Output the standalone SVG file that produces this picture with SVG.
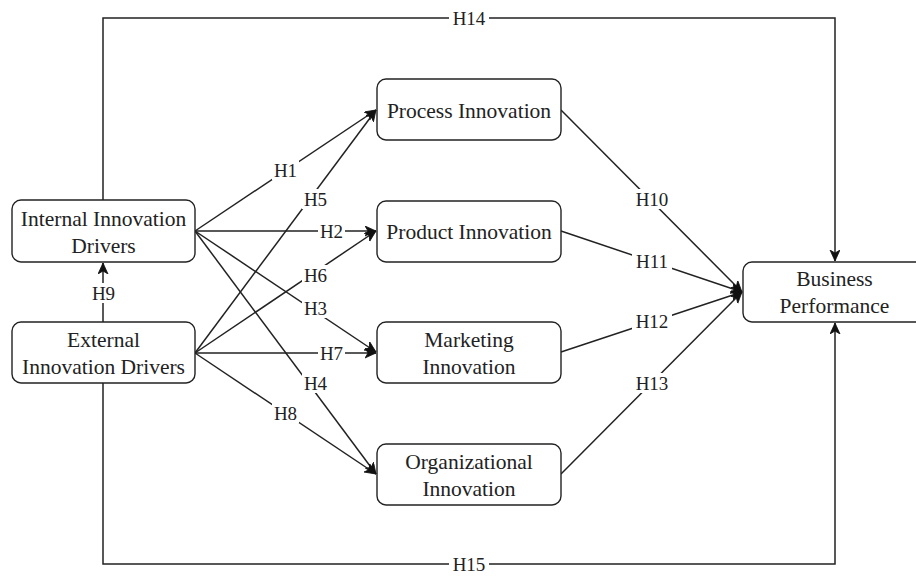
<svg xmlns="http://www.w3.org/2000/svg" width="916" height="576" viewBox="0 0 916 576">
<style>
.box{fill:#fff;stroke:#222;stroke-width:1.4}
.t{font-family:"Liberation Serif","Times New Roman",serif;font-size:21.5px;fill:#222;text-anchor:middle}
.e{fill:none;stroke:#222;stroke-width:1.5}
.lb{fill:#fff;stroke:none}
.l{font-family:"Liberation Serif","Times New Roman",serif;font-size:19px;fill:#222;text-anchor:middle}
</style>
<defs>
<marker id="arr" markerUnits="userSpaceOnUse" markerWidth="14" markerHeight="12" refX="11" refY="5" orient="auto">
<path d="M0,0 L11,5 L0,10 L3,5 z" fill="#111" stroke="#111" stroke-width="0.8"/>
</marker>
</defs>
<rect width="916" height="576" fill="#fff"/>
<g id="connectors">
<path class="e" d="M103,200 L103,18 L835,18 L835,261" marker-end="url(#arr)"/>
<path class="e" d="M103,383 L103,564 L835,564 L835,323" marker-end="url(#arr)"/>
<path class="e" d="M103,322 L103,263" marker-end="url(#arr)"/>
<path class="e" d="M195,231 L376,110" marker-end="url(#arr)"/>
<path class="e" d="M195,231 L376,231" marker-end="url(#arr)"/>
<path class="e" d="M195,231 L376,352" marker-end="url(#arr)"/>
<path class="e" d="M195,231 L376,474" marker-end="url(#arr)"/>
<path class="e" d="M195,353 L376,110" marker-end="url(#arr)"/>
<path class="e" d="M195,353 L376,231" marker-end="url(#arr)"/>
<path class="e" d="M195,353 L376,353" marker-end="url(#arr)"/>
<path class="e" d="M195,353 L376,474" marker-end="url(#arr)"/>
<path class="e" d="M561,110 L742,292" marker-end="url(#arr)"/>
<path class="e" d="M561,231 L742,292" marker-end="url(#arr)"/>
<path class="e" d="M561,352 L742,292" marker-end="url(#arr)"/>
<path class="e" d="M561,474 L742,292" marker-end="url(#arr)"/>
<g id="labels">
<rect class="lb" x="449" y="8" width="40" height="20"/><text class="l" x="469" y="24.5">H14</text>
<rect class="lb" x="449" y="554" width="40" height="20"/><text class="l" x="469" y="570.5">H15</text>
<rect class="lb" x="90" y="283" width="27" height="20"/><text class="l" x="103.5" y="299.5">H9</text>
<rect class="lb" x="272" y="160" width="27" height="20"/><text class="l" x="285.5" y="176.5">H1</text>
<rect class="lb" x="318" y="221" width="27" height="20"/><text class="l" x="331.5" y="237.5">H2</text>
<rect class="lb" x="302" y="298" width="27" height="20"/><text class="l" x="315.5" y="314.5">H3</text>
<rect class="lb" x="302" y="373" width="27" height="20"/><text class="l" x="315.5" y="389.5">H4</text>
<rect class="lb" x="302" y="189" width="27" height="20"/><text class="l" x="315.5" y="205.5">H5</text>
<rect class="lb" x="302" y="265" width="27" height="20"/><text class="l" x="315.5" y="281.5">H6</text>
<rect class="lb" x="318" y="343" width="27" height="20"/><text class="l" x="331.5" y="359.5">H7</text>
<rect class="lb" x="272" y="403" width="27" height="20"/><text class="l" x="285.5" y="419.5">H8</text>
<rect class="lb" x="632" y="189" width="40" height="20"/><text class="l" x="652" y="205.5">H10</text>
<rect class="lb" x="632" y="251" width="40" height="20"/><text class="l" x="652" y="267.5">H11</text>
<rect class="lb" x="632" y="311" width="40" height="20"/><text class="l" x="652" y="327.5">H12</text>
<rect class="lb" x="632" y="373" width="40" height="20"/><text class="l" x="652" y="389.5">H13</text>
</g>
</g>
<g id="internal"><rect class="box" x="12" y="200" width="183" height="62" rx="9"/><text class="t" x="103.5" y="225.5">Internal Innovation</text><text class="t" x="103.5" y="252.5">Drivers</text></g>
<g id="external"><rect class="box" x="12" y="322" width="183" height="61" rx="9"/><text class="t" x="103.5" y="347">External</text><text class="t" x="103.5" y="374">Innovation Drivers</text></g>
<g id="process"><rect class="box" x="377" y="79" width="184" height="61" rx="9"/><text class="t" x="469" y="117.5">Process Innovation</text></g>
<g id="product"><rect class="box" x="377" y="201" width="184" height="61" rx="9"/><text class="t" x="469" y="239">Product Innovation</text></g>
<g id="marketing"><rect class="box" x="377" y="322" width="184" height="61" rx="9"/><text class="t" x="469" y="346.5">Marketing</text><text class="t" x="469" y="373.5">Innovation</text></g>
<g id="organizational"><rect class="box" x="377" y="444" width="184" height="61" rx="9"/><text class="t" x="469" y="468.5">Organizational</text><text class="t" x="469" y="495.5">Innovation</text></g>
<g id="business"><rect class="box" x="743" y="262" width="183" height="60" rx="9"/><text class="t" x="834.5" y="285.5">Business</text><text class="t" x="834.5" y="312.5">Performance</text></g>
</svg>
